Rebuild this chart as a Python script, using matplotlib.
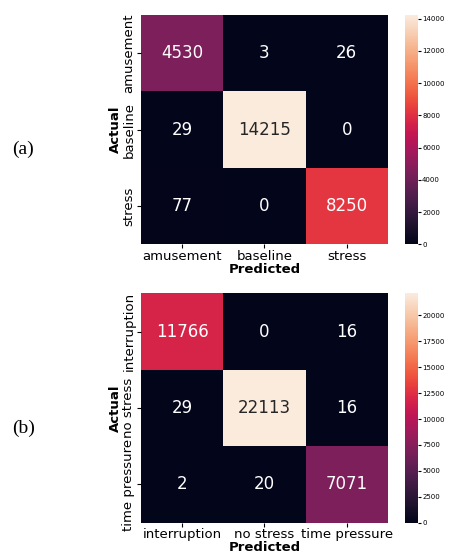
import numpy as np
import matplotlib
matplotlib.use('Agg')
import matplotlib.pyplot as plt
import seaborn as sns

# confusion matrices
labels_a = ['amusement', 'baseline', 'stress']
cm_a = np.array([[4530, 3, 26],
                 [29, 14215, 0],
                 [77, 0, 8250]])

labels_b = ['interruption', 'no stress', 'time pressure']
cm_b = np.array([[11766, 0, 16],
                 [29, 22113, 16],
                 [2, 20, 7071]])

plt.rcParams['font.family'] = ['DejaVu Sans']

fig = plt.figure(figsize=(4.49, 5.59), dpi=100)

panels = [(cm_a, labels_a, 0.563, '(a)'), (cm_b, labels_b, 0.065, '(b)')]
for cm, labels, bottom, tag in panels:
    ax = fig.add_axes([0.314, bottom, 0.550, 0.410])
    cax = fig.add_axes([0.902, bottom, 0.029, 0.410])
    sns.heatmap(cm, annot=True, fmt='d', cmap='rocket', ax=ax, cbar_ax=cax,
                xticklabels=labels, yticklabels=labels,
                annot_kws={'fontsize': 12})
    ax.set_xlabel('Predicted', fontsize=9.5, fontweight='bold', labelpad=0)
    ax.set_ylabel('Actual', fontsize=9.5, fontweight='bold', labelpad=0)
    ax.tick_params(axis='both', labelsize=9.5, length=3, pad=1)
    ax.set_yticklabels(labels, rotation=90, va='center')
    cax.tick_params(labelsize=5, length=2, pad=1)
    cax.set_frame_on(False)
    # panel tag on the left
    fig.text(0.027, bottom + 0.169, tag, fontsize=14, family='Liberation Serif',
             va='center', ha='left')

fig.savefig('out.png', dpi=100)
